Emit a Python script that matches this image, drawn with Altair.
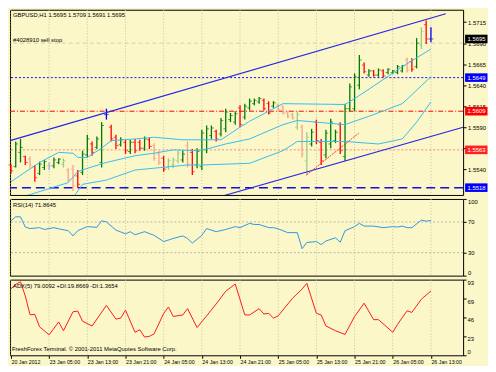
import json
import altair as alt
import pandas as pd

# ---------------- data ----------------
highs = [1.5546, 1.5573, 1.5576, 1.5556, 1.5555, 1.5545, 1.5549, 1.5551, 1.5548, 1.5554,
         1.5553, 1.5553, 1.5541, 1.5545, 1.5539, 1.5562, 1.5581, 1.5573, 1.5579, 1.5596,
         1.5612, 1.5593, 1.5581, 1.5578, 1.5575, 1.5575, 1.5576, 1.5575, 1.5579, 1.5578,
         1.5571, 1.5562, 1.5556, 1.5553, 1.5554, 1.5562, 1.5562, 1.5573, 1.5564, 1.5565,
         1.5587, 1.5592, 1.5592, 1.5587, 1.5601, 1.5612, 1.5607, 1.5609, 1.5616, 1.5618,
         1.5624, 1.5624, 1.5626, 1.5624, 1.5621, 1.5621, 1.5618, 1.5616, 1.5609, 1.5607,
         1.5609, 1.5593, 1.5584, 1.5588, 1.5599, 1.5576, 1.5587, 1.5600, 1.5587, 1.5596,
         1.5618, 1.5642, 1.5654, 1.5676, 1.5667, 1.5659, 1.5658, 1.5660, 1.5659, 1.5660,
         1.5658, 1.5664, 1.5664, 1.5673, 1.5672, 1.5696, 1.5709, 1.5717, 1.5709]
lows = [1.5535, 1.5542, 1.5548, 1.5545, 1.5541, 1.5525, 1.5533, 1.5539, 1.5539, 1.5541,
        1.5546, 1.5542, 1.5525, 1.5514, 1.5518, 1.5533, 1.5554, 1.5556, 1.5564, 1.5542,
        1.5599, 1.5573, 1.5564, 1.5567, 1.5558, 1.5558, 1.5559, 1.5562, 1.5562, 1.5564,
        1.5550, 1.5545, 1.5537, 1.5539, 1.5541, 1.5547, 1.5548, 1.5542, 1.5533, 1.5541,
        1.5539, 1.5559, 1.5576, 1.5573, 1.5579, 1.5584, 1.5596, 1.5593, 1.5590, 1.5599,
        1.5610, 1.5616, 1.5618, 1.5610, 1.5605, 1.5613, 1.5609, 1.5605, 1.5601, 1.5599,
        1.5587, 1.5554, 1.5533, 1.5567, 1.5570, 1.5545, 1.5553, 1.5565, 1.5571, 1.5558,
        1.5550, 1.5609, 1.5609, 1.5635, 1.5654, 1.5650, 1.5650, 1.5650, 1.5649, 1.5653,
        1.5653, 1.5653, 1.5655, 1.5655, 1.5656, 1.5660, 1.5683, 1.5689, 1.5691]
opens = [1.5545, 1.5543, 1.5560, 1.5555, 1.5552, 1.5543, 1.5535, 1.5542, 1.5544, 1.5544,
         1.5548, 1.5546, 1.5539, 1.5540, 1.5532, 1.5536, 1.5557, 1.5570, 1.5566, 1.5548,
         1.5605, 1.5590, 1.5578, 1.5569, 1.5572, 1.5561, 1.5572, 1.5572, 1.5565, 1.5575,
         1.5568, 1.5558, 1.5553, 1.5542, 1.5545, 1.5550, 1.5551, 1.5568, 1.5560, 1.5545,
         1.5543, 1.5563, 1.5580, 1.5585, 1.5582, 1.5588, 1.5599, 1.5596, 1.5613, 1.5602,
         1.5613, 1.5618, 1.5620, 1.5622, 1.5618, 1.5615, 1.5616, 1.5614, 1.5607, 1.5605,
         1.5590, 1.5590, 1.5550, 1.5570, 1.5596, 1.5572, 1.5557, 1.5570, 1.5574, 1.5593,
         1.5555, 1.5612, 1.5612, 1.5640, 1.5664, 1.5652, 1.5657, 1.5652, 1.5657, 1.5655,
         1.5655, 1.5655, 1.5657, 1.5670, 1.5668, 1.5662, 1.5688, 1.5712, 1.5695]
closes = [1.5538, 1.5570, 1.5566, 1.5548, 1.5545, 1.5530, 1.5546, 1.5549, 1.5544, 1.5551,
          1.5552, 1.5550, 1.5528, 1.5520, 1.5522, 1.5558, 1.5576, 1.5560, 1.5576, 1.5592,
          1.5605, 1.5576, 1.5568, 1.5575, 1.5562, 1.5572, 1.5562, 1.5565, 1.5576, 1.5567,
          1.5553, 1.5548, 1.5540, 1.5550, 1.5551, 1.5559, 1.5558, 1.5546, 1.5537, 1.5561,
          1.5583, 1.5588, 1.5589, 1.5576, 1.5598, 1.5608, 1.5604, 1.5606, 1.5593, 1.5615,
          1.5621, 1.5622, 1.5624, 1.5612, 1.5607, 1.5619, 1.5611, 1.5607, 1.5603, 1.5601,
          1.5605, 1.5558, 1.5578, 1.5584, 1.5574, 1.5550, 1.5583, 1.5596, 1.5584, 1.5562,
          1.5612, 1.5638, 1.5650, 1.5670, 1.5656, 1.5657, 1.5652, 1.5658, 1.5651, 1.5659,
          1.5657, 1.5662, 1.5663, 1.5658, 1.5659, 1.5690, 1.5704, 1.5695, 1.5695]
# u = up, d = down, n = doji ; capitals = pale drawn bars
kinds = ["d", "u", "u", "d", "D", "d", "u", "u", "N", "u",
         "u", "U", "D", "D", "d", "u", "u", "d", "u", "u",
         "n", "d", "d", "u", "d", "u", "d", "d", "u", "d",
         "D", "D", "d", "U", "U", "U", "u", "D", "d", "u",
         "u", "u", "u", "d", "u", "u", "u", "u", "d", "u",
         "u", "u", "u", "d", "d", "u", "D", "D", "D", "D",
         "U", "D", "U", "u", "d", "d", "u", "u", "u", "d",
         "u", "u", "u", "u", "d", "u", "d", "u", "d", "u",
         "u", "u", "u", "D", "d", "u", "U", "d", "n"]

up_idx = [0, 6, 10, 13, 14, 16, 19, 21, 26, 30, 36, 40, 44, 48, 50, 57, 70, 72, 76, 82, 88]
up_val = [1.5525, 1.5548, 1.5560, 1.5559, 1.5554, 1.5554, 1.5565, 1.5574, 1.5576, 1.5578,
          1.5575, 1.5575, 1.5575, 1.5590, 1.5597, 1.5618, 1.5617, 1.5624, 1.5639, 1.5662, 1.5683]
mid_idx = [3, 12, 14, 16, 20, 26, 30, 34, 39, 41, 45, 50, 57, 60, 66, 70, 76, 82, 88]
mid_val = [1.5508, 1.5524, 1.5537, 1.5541, 1.5548, 1.5556, 1.5559, 1.5563, 1.5562, 1.5564,
           1.5570, 1.5576, 1.5593, 1.5598, 1.5595, 1.5593, 1.5605, 1.5618, 1.5650]
lo_idx = [13, 15, 20, 26, 37, 40, 50, 57, 60, 70, 77, 82, 85, 88]
lo_val = [1.5506, 1.5522, 1.5527, 1.5539, 1.5545, 1.5545, 1.5547, 1.5562, 1.5573, 1.5573,
          1.5570, 1.5576, 1.5596, 1.5620]

chan_name = ["upper", "upper", "lower", "lower"]
chan_idx = [-0.2, 91.1, 40.0, 94.74]
chan_val = [1.5574, 1.5725, 1.5501, 1.5590]
trend_idx = [61.9, 72.9]
trend_val = [1.5533, 1.5583]

level_price = [1.5649, 1.5609, 1.5563, 1.5518]
level_color = ["#1010ff", "#ff0000", "#f09080", "#1010e0"]
level_dash = [[2, 2], [5, 2, 1, 2], [2, 2], [9, 5]]
level_width = [1, 1, 1, 1.5]

order_price = [1.5690]
order_label = ["#4028910 sell stop"]

box_price = [1.5695, 1.5649, 1.5609, 1.5563, 1.5518]
box_label = ["1.5695", "1.5649", "1.5609", "1.5563", "1.5518"]
box_color = ["#000000", "#0000ff", "#ff0000", "#ff2020", "#0000ff"]

price_ticks = [1.5540, 1.5565, 1.5590, 1.5615, 1.5640, 1.5665, 1.5690, 1.5715]

rsi_idx = [0, 1, 2, 3, 4, 6, 7, 9, 10, 12, 13, 14, 16, 18, 19, 20, 22, 24, 25, 26, 28, 30,
           32, 34, 36, 37, 38, 40, 41, 43, 45, 47, 48, 50, 51, 52, 54, 55, 56, 58, 60, 61,
           62, 64, 65, 66, 68, 69, 70, 72, 73, 74, 76, 78, 80, 81, 82, 83, 84, 86, 87, 88]
rsi_val = [71.5, 76.7, 76.7, 63.4, 61.4, 62.6, 60.2, 62.6, 61.0, 58.6, 51.8, 58.6, 63.9,
           63.0, 71.5, 70.0, 59.4, 54.5, 57.3, 53.3, 57.3, 52.5, 44.4, 48.5, 51.8, 48.5,
           42.4, 52.5, 61.4, 57.3, 60.2, 63.9, 62.6, 68.2, 66.7, 66.7, 62.6, 62.6, 61.0,
           56.1, 56.1, 35.2, 43.3, 44.4, 40.4, 45.2, 49.3, 43.6, 58.6, 63.9, 68.2, 64.6,
           64.6, 62.6, 63.9, 63.4, 64.6, 62.6, 62.6, 72.4, 71.1, 71.9]
rsi_levels = [30, 70]
rsi_ticks = [0, 30, 70, 100]

adx_idx = [0, 1, 2, 3, 4, 5, 6, 8, 10, 11, 13, 14, 15, 17, 20, 22, 23, 24, 26, 27, 28, 29,
           30, 32, 33, 34, 36, 37, 39, 41, 43, 45, 47, 49, 50, 52, 53, 54, 55, 56, 59, 61,
           62, 64, 65, 66, 68, 70, 72, 74, 76, 77, 80, 81, 83, 84, 86, 88]
adx_val = [81.7, 87.2, 90.3, 72.9, 49.7, 50.3, 34.9, 25.2, 41.0, 30.2, 53.5, 54.3, 41.9,
           36.0, 61.3, 44.5, 45.7, 55.5, 28.3, 31.4, 22.4, 23.3, 26.4, 51.5, 59.3, 47.7,
           49.6, 57.3, 34.1, 48.5, 63.1, 78.7, 87.6, 49.6, 49.6, 57.3, 50.8, 51.5, 45.7,
           48.5, 70.1, 81.4, 88.4, 51.5, 49.6, 36.0, 30.2, 25.6, 47.7, 64.0, 43.8, 43.8,
           28.3, 38.0, 54.7, 52.7, 69.0, 79.0]
adx_lab_top_val = [93, 69.75, 46.5, 23.25]
adx_lab_top_txt = ["93", "69", "46", "23"]
adx_lab_bot_val = [0]
adx_lab_bot_txt = ["0"]

time_idx = [0, 8, 16, 24, 32, 40, 48, 56, 64, 72, 80, 88]
time_lab = ["20 Jan 2012", "23 Jan 05:00", "23 Jan 13:00", "23 Jan 21:00", "24 Jan 05:00",
            "24 Jan 13:00", "24 Jan 21:00", "25 Jan 05:00", "25 Jan 13:00", "25 Jan 21:00",
            "26 Jan 05:00", "26 Jan 13:00"]

main_title = "GBPUSD,H1  1.5695 1.5709 1.5691 1.5695"
rsi_title = "RSI(14) 71.8645"
adx_title = "ADX(5) 79.0092 +DI:19.8669 -DI:1.3654"
copyright_txt = "FreshForex Terminal. \u00a9 2001-2011 MetaQuotes Software Corp."

# ---------------- layout / style ----------------
W = 455
H_MAIN, H_RSI, H_ADX = 186, 77, 76
BG = "#fbf7c8"
GRID = "#c6c2a2"
FONT = "Liberation Sans"
FS = 5.9

xs = alt.Scale(domain=[-0.2024, 94.74], nice=False, zero=False)
ps = alt.Scale(domain=[1.55093, 1.57298], nice=False, zero=False)
rs = alt.Scale(domain=[0, 100], nice=False, zero=False)
ads = alt.Scale(domain=[0, 93], nice=False, zero=False)


def X(f="i"):
    return alt.X(f + ":Q", scale=xs, axis=None)


pax = alt.Axis(orient="right", values=price_ticks, format=".4f", title=None,
               labelFontSize=FS, labelColor="black", tickSize=3, tickColor="black",
               labelPadding=1.5, domain=False, grid=False, labelFlush=False)


def P(f):
    return alt.Y(f + ":Q", scale=ps, axis=pax)


bars = pd.DataFrame({"i": list(range(len(highs))), "h": highs, "l": lows,
                     "o": opens, "c": closes, "k": kinds})
cscale = alt.Scale(domain=["u", "d", "n", "U", "D", "N"],
                   range=["#007a00", "#ff0000", "#0000ff", "#9acb86", "#f4a28c", "#a9a6ee"])
col = alt.Color("k:N", scale=cscale, legend=None)

grid_df = pd.DataFrame({"i": time_idx})


def grid():
    return alt.Chart(grid_df).mark_rule(color=GRID, strokeDash=[1, 2], strokeWidth=1).encode(x=X())


layers = [grid()]
for p, c, d, w in zip(level_price, level_color, level_dash, level_width):
    layers.append(alt.Chart(pd.DataFrame({"p": [p]})).mark_rule(
        color=c, strokeDash=d, strokeWidth=w).encode(y=P("p")))

order_df = pd.DataFrame({"p": order_price, "t": order_label})
layers.append(alt.Chart(order_df).mark_rule(color="#dcd49c", strokeDash=[4, 3], strokeWidth=1)
              .encode(y=P("p")))

bbar = alt.Chart(bars)
layers.append(bbar.mark_rule(strokeWidth=1.3).encode(x=X(), y=P("l"), y2="h:Q", color=col))
layers.append(bbar.mark_tick(orient="horizontal", size=2, thickness=1, xOffset=-1.3)
              .encode(x=X(), y=P("o"), color=col))
layers.append(bbar.mark_tick(orient="horizontal", size=2, thickness=1, xOffset=1.3)
              .encode(x=X(), y=P("c"), color=col))

band_df = pd.concat([
    pd.DataFrame({"i": up_idx, "p": up_val, "b": "up"}),
    pd.DataFrame({"i": mid_idx, "p": mid_val, "b": "mid"}),
    pd.DataFrame({"i": lo_idx, "p": lo_val, "b": "lo"}),
])
layers.append(alt.Chart(band_df).mark_line(color="#36bdf0", strokeWidth=1, clip=True)
              .encode(x=X(), y=P("p"), detail="b:N"))

chan_df = pd.DataFrame({"i": chan_idx, "p": chan_val, "n": chan_name})
layers.append(alt.Chart(chan_df).mark_line(color="#2424e6", strokeWidth=1.1, clip=True)
              .encode(x=X(), y=P("p"), detail="n:N"))
trend_df = pd.DataFrame({"i": trend_idx, "p": trend_val})
layers.append(alt.Chart(trend_df).mark_line(color="#ff2020", strokeWidth=0.9, strokeDash=[2, 1])
              .encode(x=X(), y=P("p")))

layers.append(alt.Chart(pd.DataFrame({"t": [main_title]})).mark_text(
    align="left", baseline="middle", fontSize=FS, color="black")
    .encode(x=alt.value(3), y=alt.value(5), text="t:N"))
layers.append(alt.Chart(order_df).mark_text(
    align="left", baseline="bottom", fontSize=FS, color="black", dy=0)
    .encode(x=alt.value(3), y=P("p"), text="t:N"))

box_df = pd.DataFrame({"p": box_price, "t": box_label, "c": box_color})
layers.append(alt.Chart(box_df).mark_rect(yOffset=-4.3, y2Offset=4.3).encode(
    x=alt.value(W + 2), x2=alt.value(W + 24.5), y=P("p"), y2="p:Q",
    color=alt.Color("c:N", scale=None)))
layers.append(alt.Chart(box_df).mark_text(align="left", baseline="middle", fontSize=FS,
                                           color="white").encode(
    x=alt.value(W + 4.5), y=P("p"), text="t:N"))

main = alt.layer(*layers).properties(width=W, height=H_MAIN)

# ---------------- RSI ----------------
rax = alt.Axis(orient="right", values=rsi_ticks, title=None, labelFontSize=FS,
               labelColor="black", tickSize=3, tickColor="black", labelPadding=1.5,
               domain=False, grid=False, labelFlush=True)
rsi_df = pd.DataFrame({"i": rsi_idx, "v": rsi_val})
rsi = alt.layer(
    grid(),
    alt.Chart(pd.DataFrame({"v": rsi_levels})).mark_rule(
        color="#b8b6a8", strokeDash=[2, 2], strokeWidth=1).encode(
        y=alt.Y("v:Q", scale=rs, axis=rax)),
    alt.Chart(rsi_df).mark_line(color="#2e98e4", strokeWidth=1).encode(
        x=X(), y=alt.Y("v:Q", scale=rs, axis=rax)),
    alt.Chart(pd.DataFrame({"t": [rsi_title]})).mark_text(
        align="left", baseline="middle", fontSize=FS, color="black").encode(
        x=alt.value(3), y=alt.value(6), text="t:N"),
).properties(width=W, height=H_RSI)

# ---------------- ADX ----------------
lab_expr = json.dumps(time_lab) + "[round(datum.value / 8)]"
xax = alt.Axis(values=time_idx, labelExpr=lab_expr, title=None, labelAlign="left",
               labelFontSize=5.3, labelColor="black", labelPadding=1, tickSize=3,
               tickColor="black", domain=False, grid=False, labelFlush=False,
               labelOverlap=False)
aax = alt.Axis(orient="right", values=adx_lab_top_val + adx_lab_bot_val, title=None,
               labels=False, tickSize=3, tickColor="black", domain=False, grid=False)
adx_df = pd.DataFrame({"i": adx_idx, "v": adx_val})
adx = alt.layer(
    alt.Chart(grid_df).mark_rule(color=GRID, strokeDash=[1, 2], strokeWidth=1).encode(
        x=alt.X("i:Q", scale=xs, axis=xax)),
    alt.Chart(adx_df).mark_line(color="#ff1a1a", strokeWidth=1).encode(
        x=alt.X("i:Q", scale=xs, axis=xax), y=alt.Y("v:Q", scale=ads, axis=aax)),
    alt.Chart(pd.DataFrame({"v": adx_lab_top_val, "t": adx_lab_top_txt})).mark_text(
        align="left", baseline="top", fontSize=FS, color="black").encode(
        x=alt.value(W + 4.5), y=alt.Y("v:Q", scale=ads, axis=aax), text="t:N"),
    alt.Chart(pd.DataFrame({"v": adx_lab_bot_val, "t": adx_lab_bot_txt})).mark_text(
        align="left", baseline="bottom", fontSize=FS, color="black").encode(
        x=alt.value(W + 4.5), y=alt.Y("v:Q", scale=ads, axis=aax), text="t:N"),
    alt.Chart(pd.DataFrame({"t": [adx_title]})).mark_text(
        align="left", baseline="middle", fontSize=FS, color="black").encode(
        x=alt.value(3), y=alt.value(6), text="t:N"),
    alt.Chart(pd.DataFrame({"t": [copyright_txt]})).mark_text(
        align="left", baseline="middle", fontSize=FS, color="black").encode(
        x=alt.value(2), y=alt.value(H_ADX - 6), text="t:N"),
).properties(width=W, height=H_ADX)

chart = alt.vconcat(main, rsi, adx, spacing=2).resolve_scale(
    x="independent", y="independent", color="independent"
).properties(padding=0, background=BG).configure(font=FONT).configure_view(
    stroke="black", strokeWidth=1)

chart.save("out.html", embed_options={"renderer": "svg", "actions": False})
